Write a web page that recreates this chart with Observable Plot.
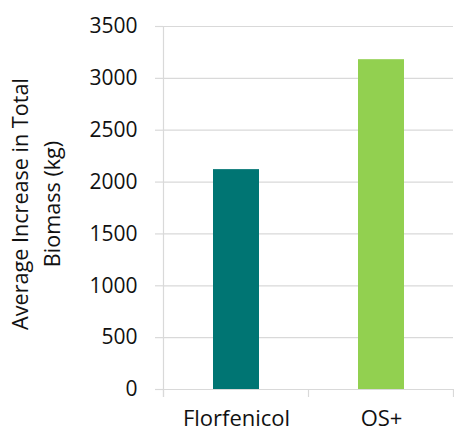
<!DOCTYPE html>
<html>
<head>
<meta charset="utf-8">
<script src="https://cdn.jsdelivr.net/npm/d3@7"></script>
<script src="https://cdn.jsdelivr.net/npm/@observablehq/plot@0.6"></script>
<style>
  html, body { margin: 0; padding: 0; background: #fff; }
  #chart svg { display: block; }
</style>
</head>
<body>
<div id="chart"></div>
<script>
const categories = ["Florfenicol", "OS+"];
const values = [2120, 3180];
const barColors = ["#007573", "#92D050"];
const yTicks = [0, 500, 1000, 1500, 2000, 2500, 3000, 3500];
const yLabel = "Average Increase in Total\nBiomass (kg)";

const data = categories.map((c, i) => ({category: c, value: values[i]}));

const gridColor = "#d9d9d9";
const textColor = "#111";
const fontFamily = "'Open Sans', sans-serif";
const fontSize = 21;
const paddingInner = 0.683;

function categoryBoundaryTicks(index, scales, values, dimensions) {
  const x = scales.x;
  const xs = categories.map(c => x(c));
  const step = xs[1] - xs[0];
  let bw = typeof x.bandwidth === "function" ? x.bandwidth() : x.bandwidth;
  if (typeof bw !== "number" || isNaN(bw)) bw = step * (1 - paddingInner);
  const gap = step - bw;
  const bounds = [xs[0] - gap / 2, ...xs.map(v => v + bw + gap / 2)];
  const yb = dimensions.height - dimensions.marginBottom;
  const g = d3.create("svg:g").attr("stroke", gridColor).attr("stroke-width", 1.2);
  g.append("line")
    .attr("x1", bounds[0]).attr("x2", bounds[0])
    .attr("y1", dimensions.marginTop).attr("y2", yb + 8);
  bounds.forEach(b => {
    g.append("line").attr("x1", b).attr("x2", b).attr("y1", yb).attr("y2", yb + 8);
  });
  return g.node();
}

const chart = Plot.plot({
  width: 454,
  height: 433,
  marginLeft: 163,
  marginRight: 1,
  marginTop: 26,
  marginBottom: 44,
  style: {fontFamily, fontSize: fontSize + "px", color: textColor, background: "#fff"},
  x: {domain: categories, paddingInner: paddingInner, paddingOuter: paddingInner / 2},
  y: {domain: [0, 3500]},
  color: {domain: categories, range: barColors},
  marks: [
    Plot.gridY(yTicks, {stroke: gridColor, strokeOpacity: 1, strokeWidth: 1.2}),
    Plot.barY(data, {x: "category", y: "value", fill: "category"}),
    categoryBoundaryTicks,
    Plot.axisY(yTicks, {
      tickSize: 8, tickPadding: 18, stroke: gridColor, strokeWidth: 1.2, strokeOpacity: 1,
      fill: textColor, fontSize, label: null, tickFormat: d => String(d)
    }),
    Plot.axisX({tickSize: 0, tickPadding: 21, fill: textColor, fontSize: 22, label: null}),
    Plot.text([yLabel], {
      frameAnchor: "left", rotate: -90, dx: -130, dy: -4,
      fontSize: 21.6, lineHeight: 1.52, fill: textColor, textAnchor: "middle", lineAnchor: "middle"
    })
  ]
});

document.getElementById("chart").appendChild(chart);
</script>
</body>
</html>
